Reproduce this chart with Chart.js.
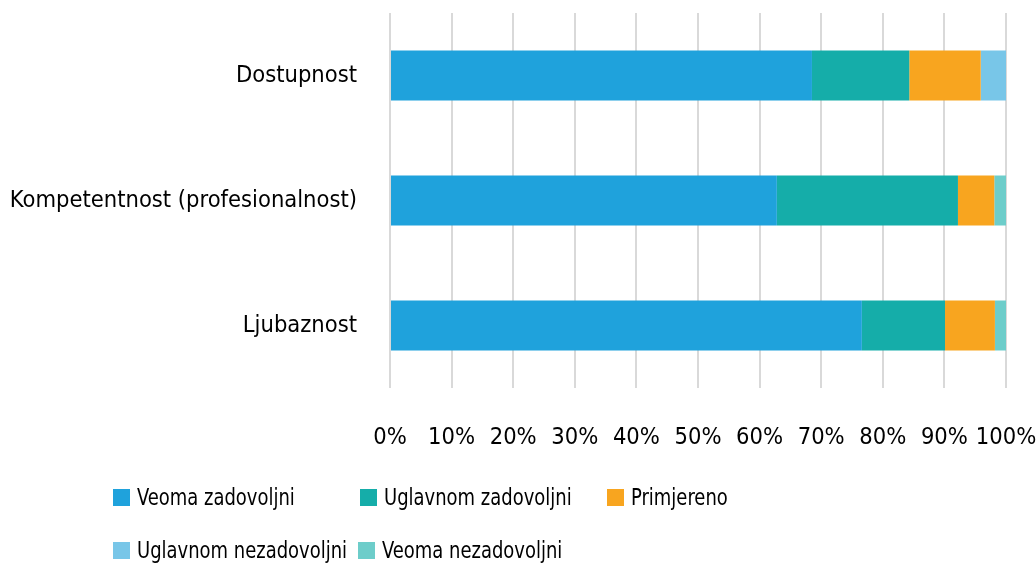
<!DOCTYPE html>
<html>
<head>
<meta charset="utf-8">
<script src="https://cdn.jsdelivr.net/npm/chart.js@4/dist/chart.umd.min.js"></script>
<style>
  html, body { margin: 0; padding: 0; background: #fff; }
  #wrap { position: relative; width: 1036px; height: 569px; overflow: hidden; }
  canvas { position: absolute; left: 0; top: 0; }
  .item { position: absolute; height: 30px; display: flex; align-items: center; white-space: nowrap;
          font-family: "Liberation Sans Narrow", "DejaVu Sans Condensed", sans-serif; font-size: 23.5px; color: #000; }
  .box { width: 17px; height: 17px; margin-right: 7px; flex: none; }
  .txt { display: inline-block; transform: scaleX(0.85); transform-origin: left center; }
</style>
</head>
<body>
<div id="wrap">
  <canvas id="c" width="1036" height="569"></canvas>
</div>
<script>
const categories = ['Dostupnost', 'Kompetentnost (profesionalnost)', 'Ljubaznost'];
const seriesNames = ['Veoma zadovoljni', 'Uglavnom zadovoljni', 'Primjereno', 'Uglavnom nezadovoljni', 'Veoma nezadovoljni'];
const veomaZadovoljni = [68.5, 62.8, 76.6];
const uglavnomZadovoljni = [15.8, 29.4, 13.5];
const primjereno = [11.6, 5.9, 8.1];
const uglavnomNezadovoljni = [4.1, 0, 0];
const veomaNezadovoljni = [0, 1.9, 1.8];
const tickValues = [0, 10, 20, 30, 40, 50, 60, 70, 80, 90, 100];
const colors = ['#1fa2dc', '#15ada9', '#f8a51f', '#78c6e8', '#6dcdca'];

const seriesData = [veomaZadovoljni, uglavnomZadovoljni, primjereno, uglavnomNezadovoljni, veomaNezadovoljni];
const FONT = '"Liberation Sans Narrow", "DejaVu Sans Condensed", sans-serif';

const datasets = seriesNames.map((n, i) => ({
  label: n,
  data: seriesData[i],
  backgroundColor: colors[i],
  borderWidth: 0,
  categoryPercentage: 0.4,
  barPercentage: 1.0
}));

function noPad(s) { s.paddingLeft = 0; s.paddingRight = 0; s.paddingTop = 0; s.paddingBottom = 0; }

new Chart(document.getElementById('c'), {
  type: 'bar',
  data: { labels: categories, datasets },
  options: {
    indexAxis: 'y',
    responsive: false,
    animation: false,
    layout: { padding: { top: 13, right: 30, bottom: 116, left: 0 } },
    plugins: { legend: { display: false }, tooltip: { enabled: false } },
    scales: {
      x: {
        stacked: true,
        min: 0, max: 100,
        afterBuildTicks: (s) => { s.ticks = tickValues.map(v => ({ value: v })); },
        afterFit: (s) => { s.height = 65; noPad(s); },
        grid: { color: '#d9d9d9', lineWidth: 2, drawTicks: false },
        border: { display: false },
        ticks: {
          padding: 36,
          minRotation: 0,
          maxRotation: 0,
          autoSkip: false,
          color: '#000',
          font: { family: FONT, size: 23.5 },
          callback: (v) => v + '%'
        }
      },
      y: {
        stacked: true,
        afterFit: (s) => { s.width = 390; noPad(s); },
        grid: { display: false, drawTicks: false },
        border: { display: false },
        ticks: {
          padding: 33,
          color: '#000',
          font: { family: FONT, size: 23.5 }
        }
      }
    }
  }
});

// HTML legend (Excel-style layout)
const legendPos = [[113, 482], [360, 482], [607, 482], [113, 535], [358, 535]];
const wrap = document.getElementById('wrap');
seriesNames.forEach((n, i) => {
  const it = document.createElement('div');
  it.className = 'item';
  it.style.left = legendPos[i][0] + 'px';
  it.style.top = legendPos[i][1] + 'px';
  const b = document.createElement('span');
  b.className = 'box';
  b.style.background = colors[i];
  const t = document.createElement('span');
  t.className = 'txt';
  t.textContent = n;
  it.appendChild(b); it.appendChild(t);
  wrap.appendChild(it);
});
</script>
</body>
</html>
